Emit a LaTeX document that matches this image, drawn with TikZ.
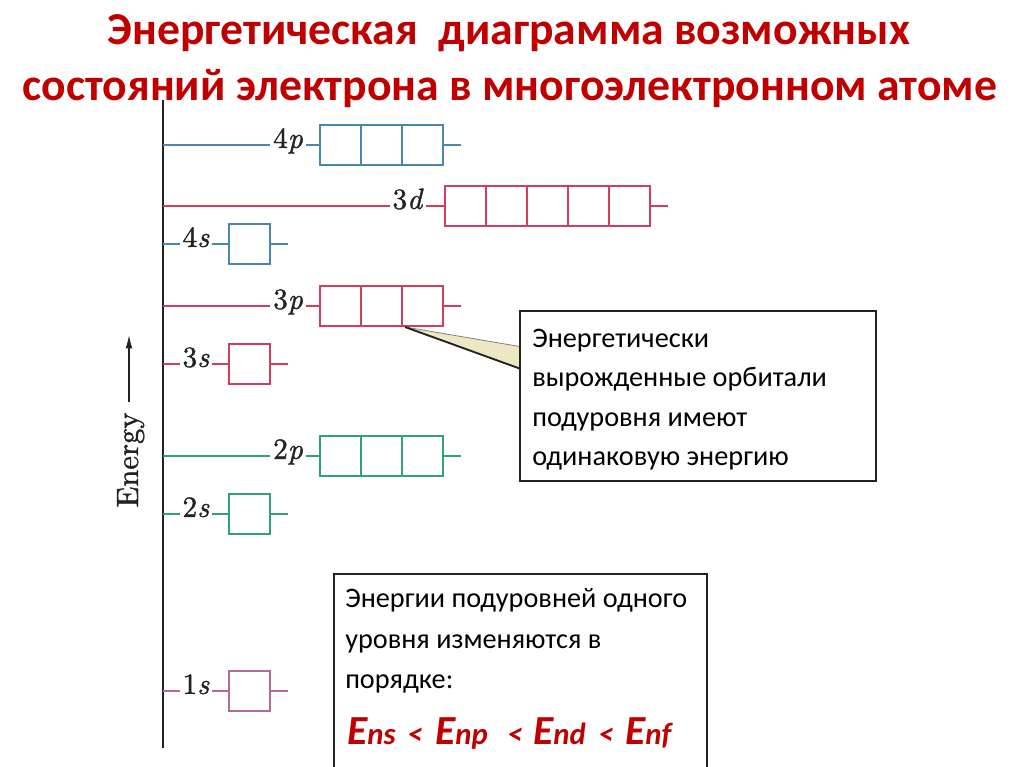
\documentclass[tikz,border=0pt]{standalone}
\usepackage{fontspec}
\usetikzlibrary{calc,arrows.meta}
\newfontfamily\calibri{Carlito}
\newfontfamily\lmlab[Extension=.otf, UprightFont=lmroman10-regular, ItalicFont=lmroman10-italic, FakeBold=1.2]{lmroman10-regular}
\definecolor{titlered}{HTML}{C00000}
\definecolor{lvblue}{HTML}{4A86AE}
\definecolor{lvred}{HTML}{D23C5E}
\definecolor{lvgreen}{HTML}{33A07C}
\definecolor{lvmauve}{HTML}{B06C96}
\definecolor{ink}{HTML}{222222}
\definecolor{wedgefill}{HTML}{EEE7C4}
\tikzset{
  titletext/.style={font=\calibri\bfseries\fontsize{33}{36}\selectfont, text=titlered, inner sep=0pt, anchor=base},
  lbl/.style={font=\lmlab\fontsize{22}{24}\selectfont, text=ink, inner sep=2pt, anchor=mid},
  cell/.style={draw, line width=0.8pt, minimum width=30.75pt, minimum height=30pt, inner sep=0pt},
  lvline/.style={line width=0.8pt},
  boxtext/.style={font=\calibri\fontsize{21.2}{24}\selectfont, text=black, inner sep=0pt, anchor=base west},
  callbox/.style={draw=ink, line width=0.8pt, fill=white, inner sep=0pt},
  fpart/.style={anchor=base west, inner sep=0pt, text=titlered, font=\calibri\bfseries\itshape},
}
\newcommand\bigE{{\fontsize{31}{34}\selectfont E}}
\newcommand\subtxt[1]{{\fontsize{23}{26}\selectfont #1}}
\newcommand\mklevel[7]{%
  \coordinate (ax#1) at (163,#2);
  \node[lbl] (lb#1) at (#3,#2) {#4};
  \foreach \i in {1,...,#6} {\node[cell,draw=#7] (c#1\i) at ({#5+20.5+41*(\i-1)},#2) {};}
  \draw[lvline,#7] (ax#1) -- (lb#1.mid west);
  \draw[lvline,#7] (lb#1.mid east) -- (c#11.west);
  \coordinate (end#1) at ($(c#1#6.east)+(17,0)$);
  \draw[lvline,#7] (c#1#6.east) -- (end#1);
}
\begin{document}
\begin{tikzpicture}[x=0.75pt,y=-0.75pt]
\clip (0,0) rectangle (1024,767);
\fill[white] (0,0) rectangle (1024,767);
% title
\node[titletext] (title1) at (509,45) {\resizebox{601.5pt}{!}{Энергетическая\ \ диаграмма возможных}};
\node[titletext] (title2) at (510,101) {\resizebox{731pt}{!}{состояний электрона в многоэлектронном атоме}};
% axis
\coordinate (axtop) at (163,100);
\coordinate (axbot) at (163,748);
\draw[ink, line width=0.9pt] (axtop) -- (axbot);
% energy label
\coordinate (arrlo) at (129,402);
\coordinate (arrhi) at (129,335);
\draw[ink, line width=0.8pt, -{Latex[length=10pt,width=5pt]}] (arrlo) -- (arrhi);
\node[rotate=90, anchor=base, font=\lmlab\fontsize{23}{25}\selectfont, text=ink, inner sep=0pt] (energy) at (138,460) {Energy};
% levels
\mklevel{4p}{145}{288}{4\textit{p}}{320}{3}{lvblue}
\mklevel{3d}{206}{408}{3\textit{d}}{445}{5}{lvred}
\mklevel{4s}{244}{196}{4\textit{s}}{229}{1}{lvblue}
\mklevel{3p}{306}{288}{3\textit{p}}{320}{3}{lvred}
\mklevel{3s}{364}{196}{3\textit{s}}{229}{1}{lvred}
\mklevel{2p}{456}{288}{2\textit{p}}{320}{3}{lvgreen}
\mklevel{2s}{514}{196}{2\textit{s}}{229}{1}{lvgreen}
\mklevel{1s}{691}{196}{1\textit{s}}{229}{1}{lvmauve}
% callout 1
\node[callbox, minimum width=267pt, minimum height=127.5pt] (cb1) at (698,396) {};
\coordinate (tip) at (405,327);
\coordinate (wa) at ($(cb1.north west)+(0,36)$);
\coordinate (wb) at ($(cb1.north west)+(0,58)$);
\fill[wedgefill] (tip) -- (wa) -- (wb) -- cycle;
\draw[gray, line width=0.6pt] (tip) -- (wa);
\draw[ink, line width=1.4pt] (tip) -- (wb);
\draw[ink, line width=0.8pt] (cb1.north west) rectangle (cb1.south east);
\node[boxtext] (c1l1) at (532,347) {Энергетически};
\node[boxtext] (c1l2) at (532,386.5) {вырожденные орбитали};
\node[boxtext] (c1l3) at (532,426) {подуровня имеют};
\node[boxtext] (c1l4) at (532,465.5) {одинаковую энергию};
% callout 2
\node[callbox, minimum width=279.75pt, minimum height=169.5pt] (cb2) at (520.5,687) {};
\node[boxtext] (c2l1) at (345,607) {Энергии подуровней одного};
\node[boxtext] (c2l2) at (345,648) {уровня изменяются в};
\node[boxtext] (c2l3) at (345,688) {порядке:};
\node[fpart] (fE1) at (347,744) {\bigE\subtxt{ns}};
\node[fpart] (flt1) at (407,744) {\subtxt{<}};
\node[fpart] (fE2) at (435,744) {\bigE\subtxt{np}};
\node[fpart] (flt2) at (507,744) {\subtxt{<}};
\node[fpart] (fE3) at (533,744) {\bigE\subtxt{nd}};
\node[fpart] (flt3) at (598,744) {\subtxt{<}};
\node[fpart] (fE4) at (625,744) {\bigE\subtxt{nf}};
\end{tikzpicture}
\end{document}
